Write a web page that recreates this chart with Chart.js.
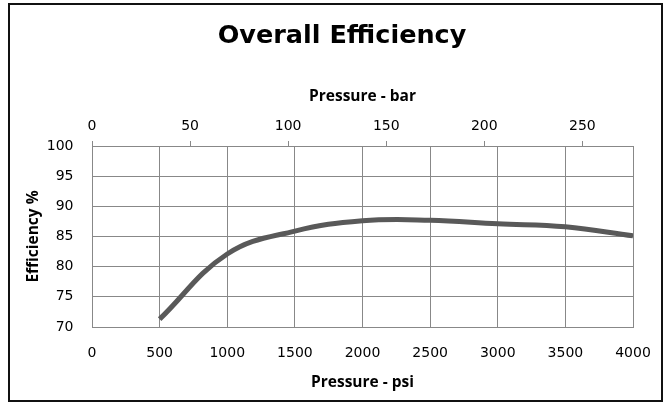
<!DOCTYPE html>
<html>
<head>
<meta charset="utf-8">
<script src="https://cdn.jsdelivr.net/npm/chart.js@4/dist/chart.umd.min.js"></script>
<style>
  html, body { margin: 0; padding: 0; background: #fff; }
  #wrap { position: relative; width: 672px; height: 404px; }
  #frame {
    position: absolute; left: 8px; top: 3px; width: 651px; height: 395px;
    border: 2px solid #111; pointer-events: none;
  }
</style>
</head>
<body>
<div id="wrap">
  <canvas id="chart" width="672" height="404"></canvas>
  <div id="frame"></div>
</div>
<script>
// ---------------- DATA ----------------
const pressurePsi = [500, 1000, 1500, 2000, 2500, 3000, 3500, 4000];
const efficiency = [71.3, 82.1, 85.9, 87.6, 87.7, 87.1, 86.6, 85.1];
const barTicks = [0, 50, 100, 150, 200, 250];
const PSI_PER_BAR = 14.5038;

const gridGray = "#888888";
const tickFont = "'DejaVu Sans', sans-serif";
const titleFont = "'DejaVu Sans', sans-serif";
const axisTitleFont = "'Open Sans', sans-serif";

const points = pressurePsi.map((p, i) => ({ x: p, y: efficiency[i] }));

// plain numbers, no thousands separator
const plain = v => String(v);

// ---------------- CHART ----------------
const ctx = document.getElementById("chart");

const chart = new Chart(ctx, {
  type: "line",
  data: {
    datasets: [{
      data: points,
      borderColor: "#595959",
      borderWidth: 5,
      pointRadius: 0,
      tension: 0.4,
      fill: false
    }]
  },
  options: {
    responsive: false,
    animation: false,
    layout: { padding: { left: 12, right: 0, top: 8, bottom: 8 } },
    plugins: {
      legend: { display: false },
      tooltip: { enabled: false },
      title: {
        display: true,
        text: "Overall Efficiency",
        color: "#000",
        font: { family: titleFont, size: 25.5, weight: "bold" },
        padding: { top: 13, bottom: 8.4 }
      }
    },
    scales: {
      x: {
        type: "linear",
        position: "bottom",
        min: 0,
        max: 4000,
        ticks: {
          stepSize: 500,
          color: "#000",
          padding: 18,
          callback: plain,
          font: { family: tickFont, size: 14 }
        },
        grid: { color: gridGray, drawTicks: false },
        border: { color: gridGray },
        title: {
          display: true,
          text: "Pressure - psi",
          color: "#000",
          font: { family: axisTitleFont, size: 15.5, weight: "bold" },
          padding: { top: 0, bottom: 4 }
        },
        afterFit: s => { s.height = 69; }
      },
      x2: {
        type: "linear",
        position: "top",
        min: 0,
        max: 4000 / PSI_PER_BAR,
        afterBuildTicks: s => { s.ticks = barTicks.map(v => ({ value: v })); },
        ticks: {
          color: "#000",
          padding: 6.6,
          callback: plain,
          font: { family: tickFont, size: 14 }
        },
        grid: { color: gridGray, drawOnChartArea: false, tickLength: 5 },
        border: { color: gridGray },
        title: {
          display: true,
          text: "Pressure - bar",
          color: "#000",
          font: { family: axisTitleFont, size: 15.5, weight: "bold" },
          padding: { top: 27, bottom: 0 }
        },
        afterFit: s => { s.height = 86; }
      },
      y: {
        min: 70,
        max: 100,
        ticks: {
          stepSize: 5,
          color: "#000",
          padding: 18.5,
          callback: plain,
          font: { family: tickFont, size: 14 }
        },
        grid: { color: gridGray, drawTicks: false },
        border: { color: gridGray },
        title: {
          display: true,
          text: "Efficiency %",
          color: "#000",
          font: { family: axisTitleFont, size: 15.5, weight: "bold" },
          padding: { top: 12, bottom: 0 }
        },
        afterFit: s => { s.width = 80; }
      },
      // empty right-hand axis, only reserves the margin on the right
      yRight: {
        position: "right",
        ticks: { display: false },
        grid: { drawOnChartArea: false, drawTicks: false },
        border: { color: gridGray },
        afterFit: s => { s.width = 39; }
      }
    }
  }
});
</script>
</body>
</html>
